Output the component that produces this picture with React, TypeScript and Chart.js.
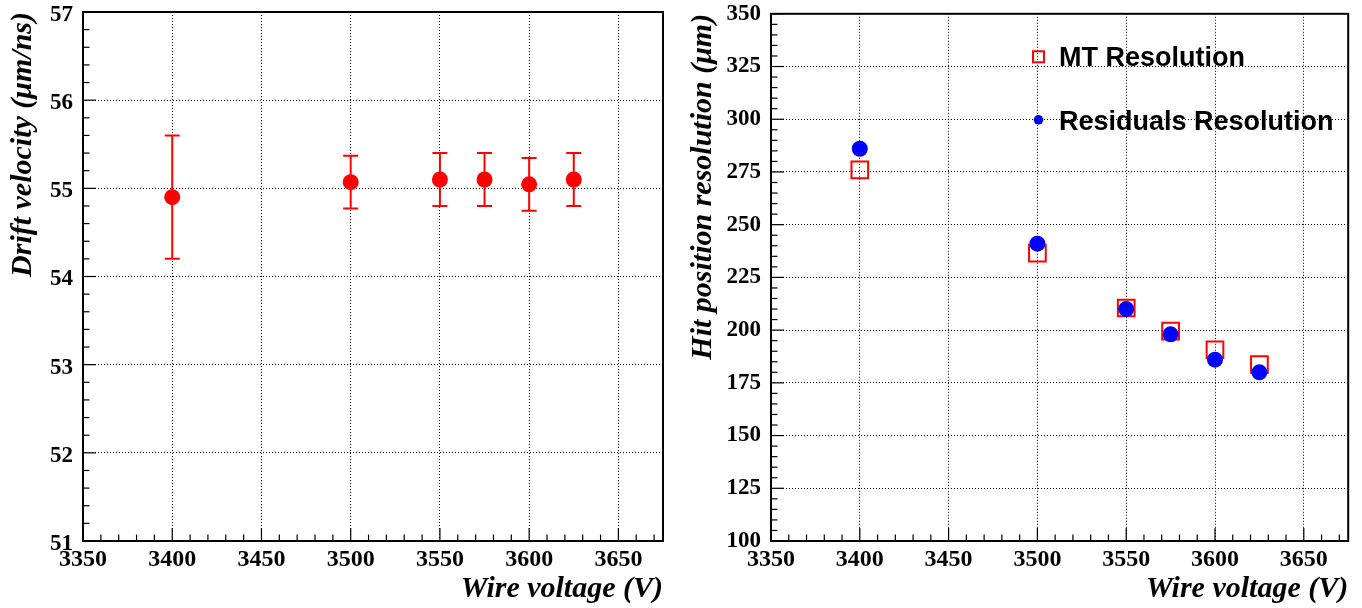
import { useEffect, useRef } from 'react';
import { Chart, registerables } from 'chart.js';

Chart.register(...registerables);

// ---- data ----
const voltages = [3400, 3500, 3550, 3575, 3600, 3625];
const driftVelocity = [54.9, 55.07, 55.1, 55.1, 55.045, 55.1];
const driftVelocityErr = [0.7, 0.3, 0.3, 0.3, 0.3, 0.3];
const mtResolution = [276, 236.5, 210.5, 199.5, 190.7, 183.6];
const residualsResolution = [286, 241, 210, 198, 186, 180];

const xTickValues = [3350, 3400, 3450, 3500, 3550, 3600, 3650];
const driftTickValues = [51, 52, 53, 54, 55, 56, 57];
const resolutionTickValues = [100, 125, 150, 175, 200, 225, 250, 275, 300, 325, 350];

const legendLabels = ['MT Resolution', 'Residuals Resolution'];

// ---- styles ----
const RED = '#ff0000';
const BLUE = '#0000ff';
const SERIF = '"Liberation Serif", "Times New Roman", serif';
const SANS = '"Liberation Sans", Arial, sans-serif';

const tickFontX = { family: SERIF, size: 24, weight: 'bold' as const, lineHeight: 1 };
const tickFontY = { family: SERIF, size: 23, weight: 'bold' as const, lineHeight: 1 };
const titleFont = { family: SERIF, size: 30, weight: 'bold' as const, style: 'italic' as const, lineHeight: 1 };

const frameTicksPlugin = {
  id: 'frameTicks',
  afterDraw(chart: any, _args: any, opts: any) {
    const { ctx, chartArea: a, scales } = chart;
    const x = scales.x;
    const y = scales.y;
    ctx.save();
    ctx.strokeStyle = '#000';
    ctx.lineWidth = 1.2;
    const drawAxis = (scale: any, minor: number, major: number, horizontal: boolean) => {
      const n = Math.floor((scale.max - scale.min) / minor + 1e-6);
      for (let i = 0; i <= n; i++) {
        const v = scale.min + i * minor;
        const r = v / major;
        const isMajor = Math.abs(r - Math.round(r)) < 1e-6;
        const len = isMajor ? 13 : 6.5;
        const p = scale.getPixelForValue(v);
        ctx.beginPath();
        if (horizontal) {
          ctx.moveTo(p, a.bottom);
          ctx.lineTo(p, a.bottom - len);
        } else {
          ctx.moveTo(a.left, p);
          ctx.lineTo(a.left + len, p);
        }
        ctx.stroke();
      }
    };
    drawAxis(x, opts.xMinor, opts.xMajor, true);
    drawAxis(y, opts.yMinor, opts.yMajor, false);
    ctx.lineWidth = 2;
    ctx.strokeRect(a.left, a.top, a.right - a.left, a.bottom - a.top);
    ctx.restore();
  },
};

const errorBarsPlugin = {
  id: 'errorBars',
  beforeDatasetsDraw(chart: any, _args: any, opts: any) {
    if (!opts || !opts.values) return;
    const { ctx, scales } = chart;
    const x = scales.x;
    const y = scales.y;
    ctx.save();
    ctx.strokeStyle = opts.color;
    ctx.lineWidth = 2;
    opts.xs.forEach((xv: number, i: number) => {
      const px = x.getPixelForValue(xv);
      const top = y.getPixelForValue(opts.values[i] + opts.errors[i]);
      const bot = y.getPixelForValue(opts.values[i] - opts.errors[i]);
      ctx.beginPath();
      ctx.moveTo(px, top);
      ctx.lineTo(px, bot);
      ctx.moveTo(px - 7.5, top);
      ctx.lineTo(px + 7.5, top);
      ctx.moveTo(px - 7.5, bot);
      ctx.lineTo(px + 7.5, bot);
      ctx.stroke();
    });
    ctx.restore();
  },
};

const markerLegendPlugin = {
  id: 'markerLegend',
  afterDraw(chart: any, _args: any, opts: any) {
    if (!opts || !opts.labels) return;
    const { ctx, chartArea: a } = chart;
    ctx.save();
    ctx.strokeStyle = RED;
    ctx.lineWidth = 2;
    ctx.strokeRect(a.left + 267.5 - 5.5, a.top + 43 - 5.5, 11, 11);
    ctx.fillStyle = BLUE;
    ctx.beginPath();
    ctx.arc(a.left + 267.5, a.top + 106, 4.8, 0, Math.PI * 2);
    ctx.fill();
    ctx.fillStyle = '#000';
    ctx.font = `bold 27px ${SANS}`;
    ctx.textBaseline = 'alphabetic';
    ctx.textAlign = 'left';
    ctx.fillText(opts.labels[0], a.left + 288, a.top + 52);
    ctx.fillText(opts.labels[1], a.left + 288, a.top + 116);
    ctx.restore();
  },
};

const plainLabel = (v: number | string) => String(v);

function makeXScale() {
  return {
    type: 'linear' as const,
    min: 3350,
    max: 3675,
    afterBuildTicks: (s: any) => {
      s.ticks = xTickValues.map((value) => ({ value }));
    },
    afterFit: (s: any) => {
      s.height = 67;
      s.paddingLeft = 0;
      s.paddingRight = 0;
      s.paddingTop = 0;
      s.paddingBottom = 0;
    },
    grid: { color: '#000', lineWidth: 1, drawTicks: false },
    border: { display: false, dash: [1, 2] },
    ticks: { color: '#000', font: tickFontX, padding: 7, maxRotation: 0, autoSkip: false, callback: plainLabel },
    title: {
      display: true,
      text: 'Wire voltage (V)',
      align: 'end' as const,
      color: '#000',
      font: titleFont,
      padding: { top: 0, bottom: 4 },
    },
  };
}

function makeYScale(min: number, max: number, tickValues: number[], width: number, title: string, labelOffset: number) {
  return {
    type: 'linear' as const,
    min,
    max,
    afterBuildTicks: (s: any) => {
      s.ticks = tickValues.map((value) => ({ value }));
    },
    afterFit: (s: any) => {
      s.width = width;
      s.paddingLeft = 0;
      s.paddingRight = 0;
      s.paddingTop = 0;
      s.paddingBottom = 0;
    },
    grid: { color: '#000', lineWidth: 1, drawTicks: false },
    border: { display: false, dash: [1, 2] },
    ticks: { color: '#000', font: tickFontY, padding: 10, labelOffset, autoSkip: false, callback: plainLabel },
    title: {
      display: true,
      text: title,
      align: 'end' as const,
      color: '#000',
      font: titleFont,
      padding: { top: 8, bottom: 0 },
    },
  };
}

export default function App() {
  const leftRef = useRef<HTMLCanvasElement>(null);
  const rightRef = useRef<HTMLCanvasElement>(null);

  useEffect(() => {
    const left = new Chart(leftRef.current as HTMLCanvasElement, {
      type: 'scatter',
      data: {
        datasets: [
          {
            label: 'Drift velocity',
            data: voltages.map((x, i) => ({ x, y: driftVelocity[i] })),
            pointRadius: 8,
            pointHoverRadius: 8,
            pointBackgroundColor: RED,
            pointBorderWidth: 0,
            showLine: false,
          },
        ],
      },
      options: {
        responsive: false,
        animation: false,
        layout: { padding: { top: 12, right: 17, left: 0, bottom: 0 } },
        scales: {
          x: makeXScale(),
          y: makeYScale(51, 57, driftTickValues, 83, 'Drift velocity (μm/ns)', 3),
        },
        plugins: {
          legend: { display: false },
          tooltip: { enabled: false },
          frameTicks: { xMinor: 10, xMajor: 50, yMinor: 0.2, yMajor: 1 },
          errorBars: { xs: voltages, values: driftVelocity, errors: driftVelocityErr, color: RED },
        } as any,
      },
      plugins: [frameTicksPlugin, errorBarsPlugin],
    });

    const right = new Chart(rightRef.current as HTMLCanvasElement, {
      type: 'scatter',
      data: {
        datasets: [
          {
            label: legendLabels[0],
            data: voltages.map((x, i) => ({ x, y: mtResolution[i] })),
            pointStyle: 'rect',
            pointRadius: 11.8,
            pointHoverRadius: 11.8,
            pointBackgroundColor: 'rgba(0,0,0,0)',
            pointBorderColor: RED,
            pointBorderWidth: 2,
            showLine: false,
            order: 1,
          },
          {
            label: legendLabels[1],
            data: voltages.map((x, i) => ({ x, y: residualsResolution[i] })),
            pointRadius: 8,
            pointHoverRadius: 8,
            pointBackgroundColor: BLUE,
            pointBorderWidth: 0,
            showLine: false,
            order: 0,
          },
        ],
      },
      options: {
        responsive: false,
        animation: false,
        layout: { padding: { top: 12, right: 12, left: 0, bottom: 0 } },
        scales: {
          x: makeXScale(),
          y: makeYScale(100, 350, resolutionTickValues, 91, 'Hit position resolution (μm)', 0),
        },
        plugins: {
          legend: { display: false },
          tooltip: { enabled: false },
          frameTicks: { xMinor: 10, xMajor: 50, yMinor: 5, yMajor: 25 },
          markerLegend: { labels: legendLabels },
        } as any,
      },
      plugins: [frameTicksPlugin, markerLegendPlugin],
    });

    return () => {
      left.destroy();
      right.destroy();
    };
  }, []);

  return (
    <div
      style={{
        position: 'absolute',
        left: 0,
        top: 0,
        width: 1362,
        height: 608,
        background: '#fff',
        display: 'flex',
      }}
    >
      <canvas ref={leftRef} width={680} height={608} style={{ display: 'block' }} />
      <canvas ref={rightRef} width={682} height={608} style={{ display: 'block' }} />
    </div>
  );
}
